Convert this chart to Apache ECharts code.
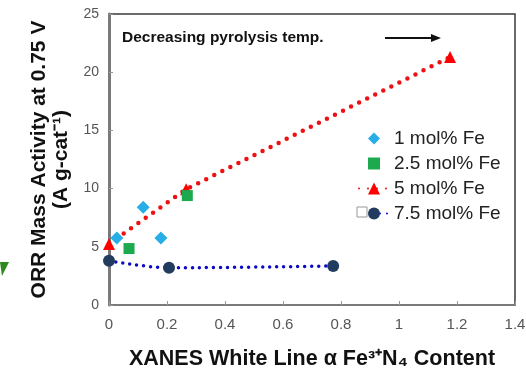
<!DOCTYPE html>
<html>
<head>
<meta charset="utf-8">
<script src="https://cdn.jsdelivr.net/npm/echarts@6/dist/echarts.min.js"></script>
<style>
  html, body { margin: 0; padding: 0; background: #fff; }
  #chart { width: 526px; height: 368px; }
</style>
</head>
<body>
<div id="chart"></div>
<script>
// White-line Fe3+N4 content vs. ORR mass activity, by Fe loading
const seriesNames = ['1 mol% Fe', '2.5 mol% Fe', '5 mol% Fe', '7.5 mol% Fe'];

const fe1X = [0.027, 0.118, 0.179];
const fe1Y = [5.75, 8.4, 5.75];

const fe25X = [0.069, 0.270];
const fe25Y = [4.85, 9.4];

const fe5X = [0.0, 0.266, 1.176];
const fe5Y = [5.25, 9.95, 21.3];

const fe75X = [0.0, 0.207, 0.773];
const fe75Y = [3.8, 3.2, 3.35];

const xTicks = [0, 0.2, 0.4, 0.6, 0.8, 1, 1.2, 1.4];
const yTicks = [0, 5, 10, 15, 20, 25];

const pairs = (xs, ys) => xs.map((x, i) => [x, ys[i]]);
const FONT = 'Liberation Sans, Arial, sans-serif';

// marker-only series are drawn as lines with a hidden stroke so the
// legend shows just the small marker
const hiddenLine = { width: 0, opacity: 0 };

const chart = echarts.init(document.getElementById('chart'), null, { renderer: 'canvas' });

chart.setOption({
  backgroundColor: '#ffffff',
  animation: false,
  textStyle: { fontFamily: FONT },
  grid: {
    left: 109, right: 11, top: 14, bottom: 63,
    outerBoundsMode: 'none', containLabel: false,
    show: true, borderColor: '#3a3a3a', borderWidth: 1.5
  },
  legend: {
    orient: 'vertical',
    left: 353, top: 124,
    itemWidth: 30, itemHeight: 15, itemGap: 6,
    textStyle: { fontFamily: FONT, fontSize: 19, lineHeight: 18, color: '#222' },
    data: seriesNames
  },
  xAxis: {
    type: 'value',
    min: xTicks[0], max: xTicks[xTicks.length - 1], interval: 0.2,
    axisLine: { show: true, lineStyle: { color: '#7a7a7a', width: 2 } },
    axisTick: { show: true, inside: true, length: 4, lineStyle: { color: '#999' } },
    splitLine: { show: false },
    axisLabel: {
      color: '#555', fontSize: 15, margin: 12, fontFamily: FONT,
      formatter: v => xTicks.some(t => Math.abs(t - v) < 1e-9) ? String(+v.toFixed(1)) : ''
    },
    name: 'XANES White Line α Fe³⁺N₄ Content',
    nameLocation: 'middle', nameGap: 43,
    nameTextStyle: { fontFamily: FONT, fontSize: 21.5, fontWeight: 'bold', color: '#111' }
  },
  yAxis: {
    type: 'value',
    min: yTicks[0], max: yTicks[yTicks.length - 1], interval: 5,
    axisLine: { show: true, lineStyle: { color: '#7a7a7a', width: 3 } },
    axisTick: { show: true, inside: true, length: 4, lineStyle: { color: '#999' } },
    splitLine: { show: false },
    axisLabel: { color: '#555', fontSize: 14, margin: 10, fontFamily: FONT },
    name: 'ORR Mass Activity at 0.75 V\n(A g-cat⁻¹)',
    nameLocation: 'middle', nameGap: 37, nameRotate: 90,
    nameTextStyle: { fontFamily: FONT, fontSize: 21, fontWeight: 'bold', color: '#111', lineHeight: 22 }
  },
  series: [
    {
      name: seriesNames[0], type: 'line',
      symbol: 'diamond', symbolSize: 13, showSymbol: true,
      itemStyle: { color: '#27aee6' },
      lineStyle: hiddenLine,
      data: pairs(fe1X, fe1Y), z: 5
    },
    {
      name: seriesNames[1], type: 'line',
      symbol: 'rect', symbolSize: 11, showSymbol: true,
      itemStyle: { color: '#1daa4f' },
      lineStyle: hiddenLine,
      data: pairs(fe25X, fe25Y), z: 5
    },
    {
      name: seriesNames[2], type: 'line',
      symbol: 'triangle', symbolSize: 12, showSymbol: true,
      itemStyle: { color: '#ff0000' },
      lineStyle: { color: '#ee1111', width: 4.5, type: [0, 9], cap: 'round' },
      data: pairs(fe5X, fe5Y), z: 4
    },
    {
      name: seriesNames[3], type: 'line',
      symbol: 'circle', symbolSize: 12, showSymbol: true, smooth: 0.35,
      itemStyle: { color: '#213c5e' },
      lineStyle: { color: '#0a0ac8', width: 3.5, type: [0, 7], cap: 'round' },
      data: pairs(fe75X, fe75Y), z: 4
    }
  ],
  graphic: [
    {
      type: 'text', left: 122, top: 30,
      style: {
        text: 'Decreasing pyrolysis temp.',
        font: 'bold 15.5px ' + FONT, fill: '#111'
      }
    },
    {
      type: 'line', shape: { x1: 385, y1: 38, x2: 432, y2: 38 },
      style: { stroke: '#111', lineWidth: 2 }
    },
    {
      type: 'polygon', shape: { points: [[441, 38], [431, 34], [431, 42]] },
      style: { fill: '#111' }
    },
    {
      type: 'rect', shape: { x: 357, y: 207, width: 10, height: 10 },
      style: { fill: '#fff', stroke: '#999', lineWidth: 1 }, z: 100
    },
    {
      type: 'polygon', shape: { points: [[0, 262], [9, 262], [2, 276]] },
      style: { fill: '#2e8b1e' }
    }
  ]
});
</script>
</body>
</html>
